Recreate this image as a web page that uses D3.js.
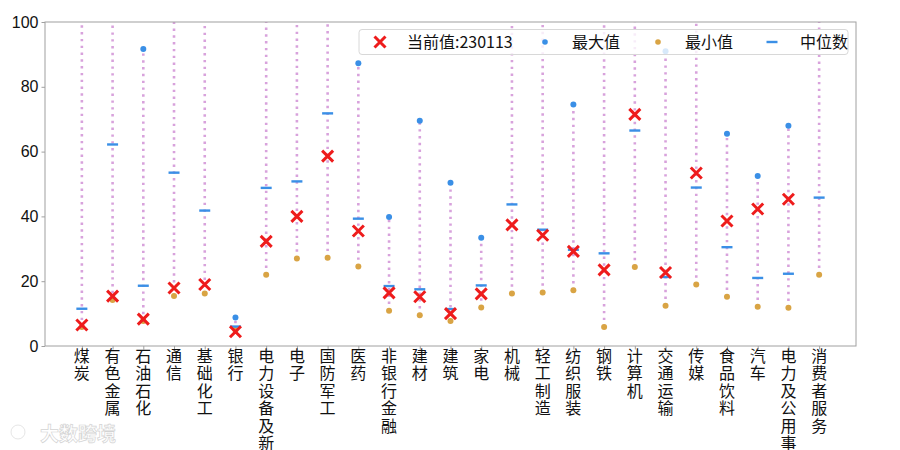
<!DOCTYPE html>
<html>
<head>
<meta charset="utf-8">
<script src="https://d3js.org/d3.v7.min.js"></script>
<style>
  body { margin: 0; background: #fff; }
  svg { display: block; }
  .lbl { font-family: "Noto Sans CJK SC", sans-serif; }
</style>
</head>
<body>
<div id="chart"></div>
<script>
// industries (x categories)
var industries = ["煤炭", "有色金属", "石油石化", "通信", "基础化工", "银行", "电力设备及新能源",
  "电子", "国防军工", "医药", "非银行金融", "建材", "建筑", "家电", "机械", "轻工制造",
  "纺织服装", "钢铁", "计算机", "交通运输", "传媒", "食品饮料", "汽车", "电力及公用事业", "消费者服务"];

// current value 230113 (null = not shown)
var currentVals = [6.5, 15.4, 8.3, 17.9, 19.0, 4.4, 32.3, 40.0, 58.6, 35.5, 16.4, 15.2, 10.0, 16.1,
  37.4, 34.2, 29.2, 23.5, 71.5, 22.7, 53.4, 38.6, 42.3, 45.3, null];
// max (null = above the 100 axis limit)
var maxVals = [null, null, 91.7, null, null, 8.8, null, null, null, 87.3, 39.8, 69.5, 50.4, 33.4,
  null, null, 74.5, null, null, 91.0, null, 65.5, 52.5, 68.0, null];
var minVals = [5.9, 14.2, 7.7, 15.4, 16.2, 4.9, 22.0, 27.0, 27.2, 24.5, 10.9, 9.5, 7.7, 11.9,
  16.2, 16.5, 17.2, 5.9, 24.4, 12.4, 19.0, 15.2, 12.1, 11.8, 22.0];
var medianVals = [11.5, 62.2, 18.6, 53.5, 41.8, 6.0, 48.8, 50.8, 71.8, 39.3, 18.5, 17.5, 11.4, 18.7,
  43.7, 35.9, 29.7, 28.6, 66.5, 21.3, 48.9, 30.5, 21.0, 22.3, 45.8];
var yTicks = [0, 20, 40, 60, 80, 100];
var legendLabels = ["当前值:230113", "最大值", "最小值", "中位数"];

var width = 900, height = 450;
var margin = {left: 45, right: 44, top: 22, bottom: 104};
var blue = "#3a8fe6", gold = "#d9a444", red = "#ee1c1c", plum = "#d8a2dc";

var svg = d3.select("#chart").append("svg").attr("width", width).attr("height", height);

var x = d3.scaleLinear().domain([-1.2, industries.length - 1 + 1.2])
  .range([margin.left, width - margin.right]);
var y = d3.scaleLinear().domain([0, 100]).range([height - margin.bottom, margin.top]);

var data = industries.map(function (name, i) {
  return {name: name, i: i, cur: currentVals[i], max: maxVals[i], min: minVals[i], med: medianVals[i]};
});

svg.append("clipPath").attr("id", "clip").append("rect")
  .attr("x", margin.left).attr("y", margin.top)
  .attr("width", width - margin.left - margin.right)
  .attr("height", height - margin.top - margin.bottom);

var plot = svg.append("g").attr("clip-path", "url(#clip)");

// dotted range lines min -> max
plot.selectAll(".range").data(data).enter().append("line")
  .attr("x1", function (d) { return x(d.i); })
  .attr("x2", function (d) { return x(d.i); })
  .attr("y1", function (d) { return y(d.min); })
  .attr("y2", function (d) { return d.max == null ? y(100) - 2 : y(d.max); })
  .attr("stroke", plum).attr("stroke-width", 2.6)
  .attr("stroke-dasharray", "2.4 4.4");

plot.selectAll(".mx").data(data.filter(function (d) { return d.max != null; })).enter()
  .append("circle")
  .attr("cx", function (d) { return x(d.i); })
  .attr("cy", function (d) { return y(d.max); })
  .attr("r", 3).attr("fill", blue);

plot.selectAll(".mn").data(data).enter().append("circle")
  .attr("cx", function (d) { return x(d.i); })
  .attr("cy", function (d) { return y(d.min); })
  .attr("r", 3).attr("fill", gold);

plot.selectAll(".md").data(data).enter().append("line")
  .attr("x1", function (d) { return x(d.i) - 5.5; })
  .attr("x2", function (d) { return x(d.i) + 5.5; })
  .attr("y1", function (d) { return y(d.med); })
  .attr("y2", function (d) { return y(d.med); })
  .attr("stroke", blue).attr("stroke-width", 2.4);

function cross(g, cx, cy, s) {
  g.append("path")
    .attr("d", "M" + (cx - s) + "," + (cy - s) + "L" + (cx + s) + "," + (cy + s) +
      "M" + (cx - s) + "," + (cy + s) + "L" + (cx + s) + "," + (cy - s))
    .attr("stroke", red).attr("stroke-width", 3);
}
data.filter(function (d) { return d.cur != null; }).forEach(function (d) {
  cross(plot, x(d.i), y(d.cur), 5.5);
});

// frame
svg.append("rect")
  .attr("x", margin.left).attr("y", margin.top)
  .attr("width", width - margin.left - margin.right)
  .attr("height", height - margin.top - margin.bottom)
  .attr("fill", "none").attr("stroke", "#a0a0a0").attr("stroke-width", 1);

// y axis
var yAxis = svg.append("g").attr("transform", "translate(" + margin.left + ",0)")
  .call(d3.axisLeft(y).tickValues(yTicks).tickSize(3.5).tickPadding(3));
yAxis.select(".domain").remove();
yAxis.selectAll("line").attr("stroke", "#a0a0a0");
yAxis.selectAll("text").attr("font-family", "'Liberation Sans', Arial, sans-serif")
  .attr("font-size", 16).attr("fill", "#111");

// x axis ticks with vertical stacked labels
var xAxis = svg.append("g").attr("transform", "translate(0," + (height - margin.bottom) + ")")
  .call(d3.axisBottom(x).tickValues(d3.range(industries.length)).tickSize(3.5).tickFormat(""));
xAxis.select(".domain").remove();
xAxis.selectAll("line").attr("stroke", "#a0a0a0");

var xl = svg.append("g").attr("class", "lbl");
data.forEach(function (d) {
  var t = xl.append("text").attr("text-anchor", "middle")
    .attr("font-size", 16).attr("fill", "#111");
  d.name.split("").forEach(function (ch, k) {
    t.append("tspan").attr("x", x(d.i)).attr("y", 362 + k * 17.4).text(ch);
  });
});

// legend
var lg = svg.append("g").attr("class", "lbl");
lg.append("rect").attr("x", 359).attr("y", 29.5).attr("width", 489).attr("height", 25)
  .attr("rx", 3).attr("fill", "#fff").attr("fill-opacity", 0.8)
  .attr("stroke", "#d8d8d8").attr("stroke-width", 1);
var ly = 42;
var lgX = [380, 545, 658, 772];
cross(lg, lgX[0], ly, 5.5);
lg.append("circle").attr("cx", lgX[1]).attr("cy", ly).attr("r", 2.8).attr("fill", blue);
lg.append("circle").attr("cx", lgX[2]).attr("cy", ly).attr("r", 2.8).attr("fill", gold);
lg.append("line").attr("x1", lgX[3] - 5.5).attr("x2", lgX[3] + 5.5).attr("y1", ly).attr("y2", ly)
  .attr("stroke", blue).attr("stroke-width", 2.4);
var lgTx = [407, 572, 685, 800];
legendLabels.forEach(function (s, k) {
  lg.append("text").attr("x", lgTx[k]).attr("y", ly + 5.5).attr("font-size", 16)
    .attr("fill", "#111").text(s);
});

// faint watermark
var wm = svg.append("g").attr("class", "lbl").attr("opacity", 0.9);
wm.append("circle").attr("cx", 18).attr("cy", 432).attr("r", 7).attr("fill", "none")
  .attr("stroke", "#fff").attr("stroke-width", 3);
wm.append("circle").attr("cx", 18).attr("cy", 432).attr("r", 7).attr("fill", "none")
  .attr("stroke", "#d0d0d0").attr("stroke-width", 0.6);
wm.append("text").attr("x", 40).attr("y", 441).attr("font-size", 19).attr("font-weight", "bold")
  .attr("fill", "#fff").attr("stroke", "#cfcfcf").attr("stroke-width", 0.7).text("大数跨境");
</script>
</body>
</html>
